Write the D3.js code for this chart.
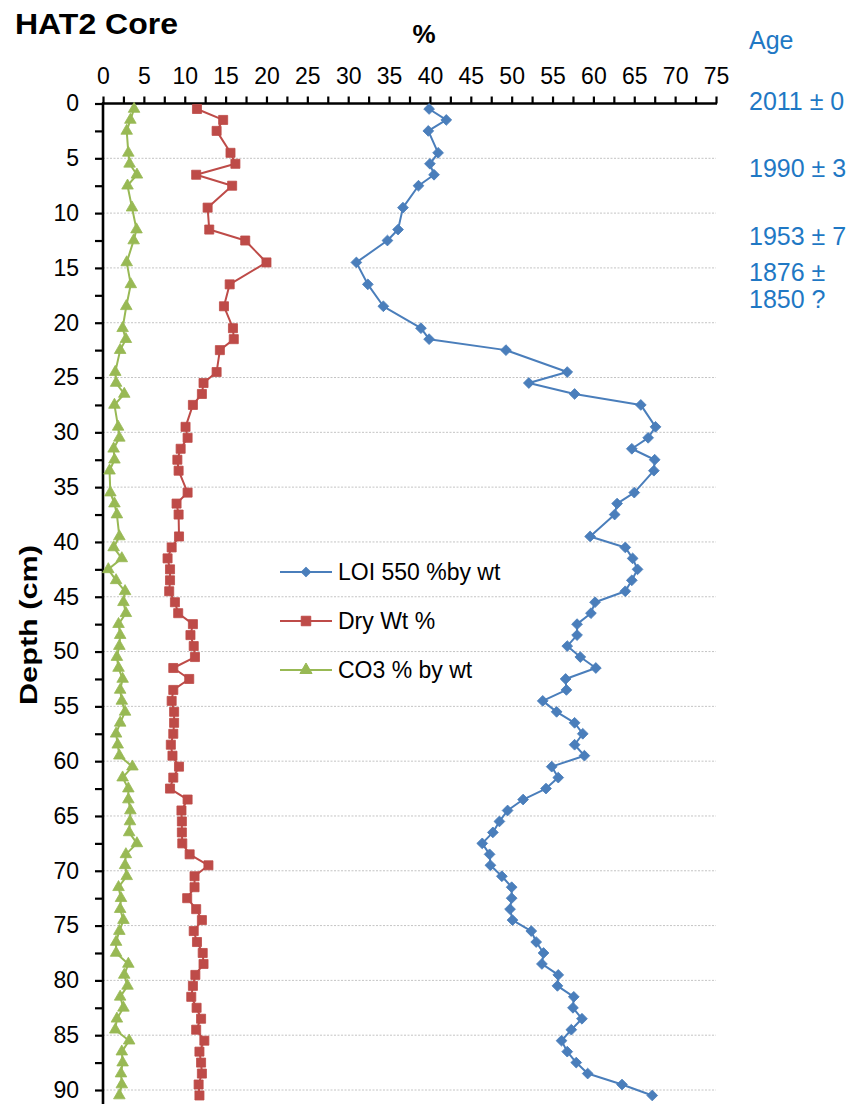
<!DOCTYPE html>
<html>
<head>
<meta charset="utf-8">
<script src="https://cdn.jsdelivr.net/npm/d3@7"></script>
<style>
  html, body { margin: 0; padding: 0; background: #fff; }
  svg { display: block; font-family: "Liberation Sans", Arial, sans-serif; }
</style>
</head>
<body>
<svg id="chart" width="856" height="1104"></svg>
<script>
// ---- Data ----
const depths = [0.5,1.5,2.5,4.5,5.5,6.5,7.5,9.5,11.5,12.5,14.5,16.5,18.5,20.5,21.5,22.5,24.5,25.5,26.5,27.5,29.5,
  30.5,31.5,32.5,33.5,35.5,36.5,37.5,
  39.5,40.5,41.5,42.5,43.5,44.5,45.5,46.5,47.5,48.5,49.5,50.5,51.5,52.5,53.5,54.5,55.5,56.5,57.5,58.5,59.5,
  60.5,61.5,62.5,63.5,64.5,65.5,66.5,67.5,68.5,69.5,70.5,71.5,72.5,73.5,74.5,75.5,76.5,77.5,78.5,79.5,80.5,
  81.5,82.5,83.5,84.5,85.5,86.5,87.5,88.5,89.5,90.5];

const loi550 = [39.9,42.0,39.8,41.0,40.0,40.5,38.6,36.7,36.1,34.8,31.0,32.4,34.3,38.9,39.9,49.3,56.8,52.1,57.7,65.8,67.6,
  66.7,64.7,67.5,67.4,65.0,62.9,62.6,
  59.6,63.9,64.8,65.4,64.7,63.9,60.2,59.7,58.0,58.0,56.8,58.4,60.3,56.6,56.7,53.8,55.5,57.7,58.7,57.7,58.9,
  54.9,55.7,54.2,51.4,49.5,48.5,47.7,46.4,47.3,47.4,48.8,50.0,50.0,49.8,50.1,52.4,53.0,53.9,53.7,55.7,55.6,
  57.6,57.5,58.6,57.3,56.1,56.8,57.9,59.3,63.5,67.2];

const dryWt = [11.5,14.7,13.9,15.6,16.2,11.4,15.8,12.8,13.0,17.4,20.0,15.5,14.8,15.9,16.0,14.3,13.9,12.3,12.1,11.0,10.1,
  10.35,9.5,9.1,9.25,10.35,9.0,9.25,
  9.3,8.4,7.9,8.2,8.2,8.1,8.8,9.2,11.0,10.7,11.1,11.25,8.6,10.55,8.6,8.4,8.7,8.7,8.6,8.3,8.5,
  9.3,8.6,8.2,10.35,9.6,9.65,9.65,9.7,10.6,12.9,11.2,11.2,10.3,11.4,12.1,11.1,11.5,12.2,12.3,11.3,11.0,
  10.8,11.45,12.0,11.4,12.4,11.8,12.0,12.1,11.7,11.8];

const co3 = [3.8,3.35,2.9,3.1,3.25,4.15,3.0,3.55,4.1,3.75,2.9,3.4,2.85,2.4,2.8,2.1,1.5,1.6,2.6,1.4,1.85,
  2.0,1.3,1.4,0.8,0.9,1.4,1.7,
  2.0,1.3,2.3,0.65,1.6,2.7,2.5,2.8,1.9,2.1,2.0,1.7,1.9,2.4,2.1,2.3,2.7,2.1,1.6,1.8,2.0,
  3.6,2.4,3.1,3.1,3.35,3.3,3.2,4.15,2.8,2.7,2.9,1.9,2.2,2.1,2.5,2.0,1.6,1.6,3.1,2.6,3.0,
  2.1,2.5,1.7,1.5,3.2,2.3,2.4,2.2,2.3,2.0];

const seriesNames = ["LOI 550 %by wt", "Dry Wt %", "CO3 % by wt"];
const xTickValues = d3.range(0, 75.01, 2.5);
const yTickValues = d3.range(0, 90.01, 2.5);
const ageLabels = ["2011 ± 0", "1990 ± 3", "1953 ± 7", "1876 ±", "1850 ?"];

// ---- Styles ----
const colors = ["#4A7EBB", "#BE4B48", "#98B954"];
const symbols = ["diamond", "square", "triangle"];
const fontSize = 23;

const svg = d3.select("#chart");
const x = d3.scaleLinear().domain([0, 75]).range([103, 716]);
const y = d3.scaleLinear().domain([0, 90]).range([103.5, 1090]);

// gridlines
svg.append("g").selectAll("line")
  .data(d3.range(5, 90.01, 5))
  .join("line")
  .attr("x1", x(0)).attr("x2", x(75))
  .attr("y1", d => y(d)).attr("y2", d => y(d))
  .attr("stroke", "#c4c4c4").attr("stroke-width", 1)
  .attr("stroke-dasharray", "2,1.5");

// top axis
const xAxis = d3.axisTop(x)
  .tickValues(xTickValues)
  .tickSize(7).tickSizeOuter(0).tickPadding(13)
  .tickFormat(d => d % 5 === 0 ? d : "");
const gx = svg.append("g").attr("transform", `translate(0,${y(0)})`).call(xAxis);
gx.select(".domain").remove();
gx.selectAll(".tick line").attr("stroke", "#000").attr("stroke-width", 2.2);
gx.selectAll(".tick text").attr("font-size", fontSize).attr("fill", "#000")
  .attr("font-family", "Liberation Sans, Arial, sans-serif");

// left axis
const yAxis = d3.axisLeft(y)
  .tickValues(yTickValues)
  .tickSize(8).tickSizeOuter(0).tickPadding(16)
  .tickFormat(d => d % 5 === 0 ? d : "");
const gy = svg.append("g").attr("transform", `translate(${x(0)},0)`).call(yAxis);
gy.select(".domain").remove();
gy.selectAll(".tick line").attr("stroke", "#000").attr("stroke-width", 2.2);
gy.selectAll(".tick text").attr("font-size", fontSize).attr("fill", "#000")
  .attr("font-family", "Liberation Sans, Arial, sans-serif");

// axis lines
svg.append("line").attr("x1", x(0) - 1).attr("x2", x(75) + 1)
  .attr("y1", y(0)).attr("y2", y(0)).attr("stroke", "#000").attr("stroke-width", 2.6);
svg.append("line").attr("x1", x(0)).attr("x2", x(0))
  .attr("y1", y(0) - 1).attr("y2", 1104).attr("stroke", "#000").attr("stroke-width", 2.6);

// series
function symbolPath(kind, scale) {
  const s = scale || 1;
  if (kind === "diamond") return d3.symbol(d3.symbolSquare, 58 * s)();
  if (kind === "square") return d3.symbol(d3.symbolSquare, 82 * s)();
  return d3.symbol(d3.symbolTriangle, 58 * s)();
}
const allSeries = [loi550, dryWt, co3];
const plot = svg.append("g");
allSeries.forEach((vals, i) => {
  const pts = depths.map((d, j) => [x(vals[j]), y(d)]);
  plot.append("path")
    .attr("d", d3.line()(pts))
    .attr("fill", "none").attr("stroke", colors[i]).attr("stroke-width", 2)
    .attr("stroke-linejoin", "round");
  plot.append("g").selectAll("path")
    .data(pts)
    .join("path")
    .attr("d", symbolPath(symbols[i]))
    .attr("transform", p => `translate(${p[0]},${p[1]})` + (symbols[i] === "diamond" ? " rotate(45)" : ""))
    .attr("fill", colors[i]).attr("stroke", colors[i]).attr("stroke-width", 0.8);
});

// legend
const legend = svg.append("g");
const legY = [572, 621, 670];
seriesNames.forEach((name, i) => {
  const g = legend.append("g").attr("transform", `translate(0,${legY[i]})`);
  g.append("line").attr("x1", 280).attr("x2", 332).attr("y1", 0).attr("y2", 0)
    .attr("stroke", colors[i]).attr("stroke-width", 2);
  g.append("path").attr("d", symbolPath(symbols[i], i === 0 ? 0.75 : 1.1))
    .attr("transform", `translate(306,0)` + (i === 0 ? " rotate(45)" : ""))
    .attr("fill", colors[i]).attr("stroke", colors[i]);
  g.append("text").attr("x", 338).attr("y", 8).attr("font-size", fontSize)
    .attr("fill", "#000").text(name);
});

// titles
svg.append("text").attr("x", 15).attr("y", 34).attr("font-size", 29)
  .attr("font-weight", "bold").attr("fill", "#000")
  .attr("textLength", 163).attr("lengthAdjust", "spacingAndGlyphs").text("HAT2 Core");
svg.append("text").attr("x", 424).attr("y", 43).attr("text-anchor", "middle")
  .attr("font-size", 26).attr("font-weight", "bold").attr("fill", "#000").text("%");
svg.append("text").attr("transform", "translate(37,625) rotate(-90)")
  .attr("text-anchor", "middle").attr("font-size", 24).attr("font-weight", "bold")
  .attr("fill", "#000").attr("textLength", 160).attr("lengthAdjust", "spacingAndGlyphs")
  .text("Depth (cm)");

// age annotations
const ageColor = "#1F78C4";
svg.append("text").attr("x", 749).attr("y", 49).attr("font-size", 25)
  .attr("fill", ageColor).text("Age");
const ageY = [110, 177, 245, 281, 308];
ageLabels.forEach((t, i) => {
  svg.append("text").attr("x", 749).attr("y", ageY[i]).attr("font-size", 25)
    .attr("fill", ageColor).text(t);
});
</script>
</body>
</html>
